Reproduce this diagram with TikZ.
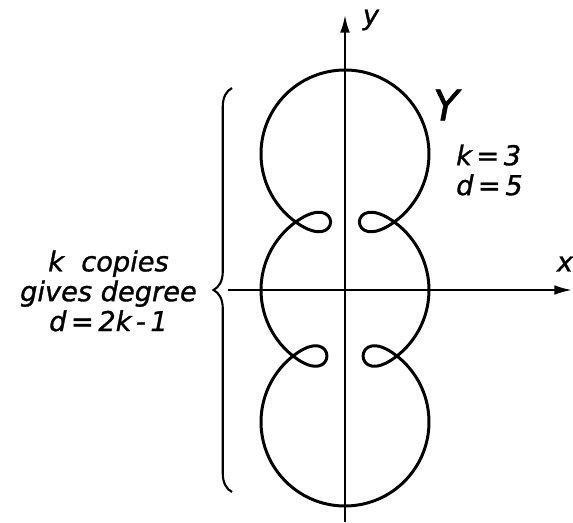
\documentclass[tikz,border=0pt]{standalone}
\usepackage{fontspec}
\newfontfamily\handfont[FakeBold=1.2]{DejaVu Sans}
\usetikzlibrary{arrows.meta,positioning,decorations.pathreplacing}

\tikzset{
  curve/.style={line width=1.7pt,line join=round},
  axis/.style={line width=1.2pt,-{Latex[length=10pt,width=5.5pt]}},
  hand/.style={font=\handfont\itshape\fontsize{15.5}{17}\selectfont}
}

\begin{document}
\begin{tikzpicture}[>=stealth]
        \useasboundingbox (-6.9,-4.64) rectangle (4.56,5.8);
        % crossing points of the circles
        \coordinate (PL) at (-0.986,1.36);
        \coordinate (PR) at (0.986,1.36);
        \coordinate (QL) at (-1.039,-1.32);
        \coordinate (QR) at (1.039,-1.32);

        \draw[axis] (-2.34,0) -- (4.54,0);
        \draw[axis] (0,-4.64) -- (0,5.5);
        \node[hand] (xlabel) at (4.4,0.52) {x};
        \node[hand] (ylabel) at (0.52,5.4) {y};

        \draw[curve] (PL) arc[start angle=234.06,end angle=-54.06,radius=1.68]
              to[out=-144,in=144,distance=1.15cm] (PR)
              arc[start angle=54.06,end angle=-51.79,radius=1.68]
              to[out=-141.8,in=141.8,distance=1.15cm] (QR)
              arc[start angle=51.79,end angle=-231.79,radius=1.68]
              to[out=38.2,in=-38.2,distance=1.15cm] (QL)
              arc[start angle=231.79,end angle=125.94,radius=1.68]
              to[out=35.94,in=-35.94,distance=1.15cm] (PL);

        \node[font=\handfont\itshape\fontsize{24}{24}\selectfont] (ylab) at (2.02,3.7) {Y};
        \node[hand,align=left,anchor=west] (kd) at (2.1,2.4) {k\,=\,3\\d\,=\,5};

        \coordinate (bracebot) at (-2.26,-4.04);
        \coordinate (bracetop) at (-2.26,4.04);
        \draw[line width=1.2pt,decorate,decoration={brace,amplitude=10.5pt}]
              (bracebot) -- (bracetop);
        \node[hand,align=center,anchor=east] (copies) at (-2.84,-0.02)
              {k\ \ copies\\gives degree\\d\,=\,2k\,-\,1};
    \end{tikzpicture}
\end{document}
